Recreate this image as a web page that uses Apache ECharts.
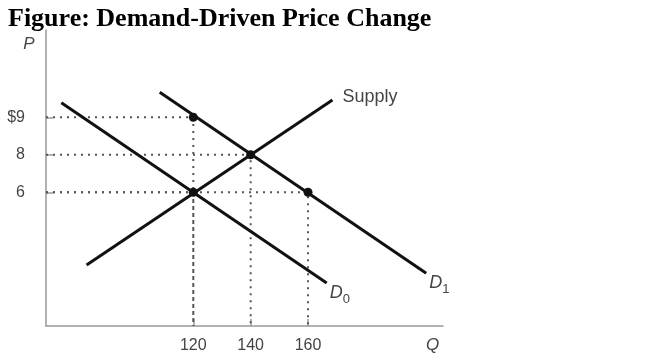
<!DOCTYPE html>
<html>
<head>
<meta charset="utf-8">
<script src="https://cdn.jsdelivr.net/npm/echarts@6/dist/echarts.min.js"></script>
<style>
  html, body { margin: 0; padding: 0; background: #fff; }
  #chart { width: 650px; height: 354px; }
</style>
</head>
<body>
<div id="chart"></div>
<script>
// Q ticks on the horizontal axis
const qTicks = [120, 140, 160]
// the picture is not to scale on P: prices sit on evenly spaced levels 0, 1, 2
const priceLevels = [0, 1, 2]
const priceLabels = ['6', '8', '$9']

// curves as [Q, price level]
const supplyLine = [[82.8, -1.94], [168.5, 2.46]]
const demand0Line = [[74.0, 2.39], [166.5, -2.42]]
const demand1Line = [[108.3, 2.67], [201.2, -2.16]]

// marked intersections [Q, price level]
const marked = [[120, 2], [140, 1], [120, 0], [160, 0]]

const qMin = 68.65, qMax = 207.05
const levelMin = -3.565, levelMax = 4.328

const labelFont = 'Liberation Sans'
const labelColor = '#444'

// dotted guides: axis -> point -> axis
const guides = marked.map(p => ({
  type: 'line',
  data: [[qMin, p[1]], [p[0], p[1]], [p[0], levelMin]],
  showSymbol: false,
  silent: true,
  z: 1,
  lineStyle: { color: '#555', width: 2, type: [2, 5] }
}))

function curve(name, data, text, offset) {
  return {
    type: 'line',
    name: name,
    data: data,
    showSymbol: false,
    silent: true,
    z: 3,
    lineStyle: { color: '#111', width: 3 },
    endLabel: {
      show: true,
      formatter: text,
      offset: offset,
      color: labelColor,
      fontFamily: labelFont,
      fontSize: 18,
      rich: {
        d: { fontStyle: 'italic', fontSize: 18, color: labelColor, fontFamily: labelFont },
        s: { fontSize: 13, color: labelColor, fontFamily: labelFont, padding: [12, 0, 0, 0] }
      }
    }
  }
}

const chart = echarts.init(document.getElementById('chart'))
chart.setOption({
  animation: false,
  backgroundColor: '#ffffff',
  title: {
    text: 'Figure: Demand-Driven Price Change',
    left: 3,
    top: 1,
    textStyle: { fontFamily: 'Liberation Serif', fontWeight: 'bold', fontSize: 26, color: '#000' }
  },
  grid: { left: 46, right: 207, top: 30, bottom: 28, containLabel: false, outerBoundsMode: 'none' },
  xAxis: {
    type: 'value',
    min: qMin,
    max: qMax,
    name: 'Q',
    nameLocation: 'end',
    nameGap: -17,
    nameTextStyle: {
      fontFamily: labelFont, fontStyle: 'italic', fontSize: 17, color: labelColor,
      verticalAlign: 'top', lineHeight: 38
    },
    splitLine: { show: false },
    axisLine: { onZero: false, lineStyle: { color: '#999', width: 1.5 } },
    axisTick: { show: true, inside: true, length: 7, customValues: qTicks, lineStyle: { color: '#999', width: 1.5 } },
    axisLabel: { customValues: qTicks, margin: 12, fontFamily: labelFont, fontSize: 16, color: labelColor }
  },
  yAxis: {
    type: 'value',
    min: levelMin,
    max: levelMax,
    name: 'P',
    nameLocation: 'end',
    nameGap: -23,
    nameTextStyle: { fontFamily: labelFont, fontStyle: 'italic', fontSize: 17, color: labelColor, padding: [0, 34, 0, 0] },
    splitLine: { show: false },
    axisLine: { show: true, onZero: false, lineStyle: { color: '#999', width: 1.5 } },
    axisTick: { show: true, inside: true, length: 7, customValues: priceLevels, lineStyle: { color: '#999', width: 1.5 } },
    axisLabel: {
      customValues: priceLevels,
      margin: 21,
      formatter: v => priceLabels[Math.round(v)],
      fontFamily: labelFont,
      fontSize: 16,
      color: labelColor
    }
  },
  series: [
    ...guides,
    curve('Supply', supplyLine, 'Supply', [2, -3]),
    curve('D0', demand0Line, '{d|D}{s|0}', [-5, 10]),
    curve('D1', demand1Line, '{d|D}{s|1}', [-5, 10]),
    {
      type: 'scatter',
      data: marked,
      symbolSize: 9,
      z: 4,
      silent: true,
      itemStyle: { color: '#111', opacity: 1 }
    }
  ]
})
</script>
</body>
</html>
